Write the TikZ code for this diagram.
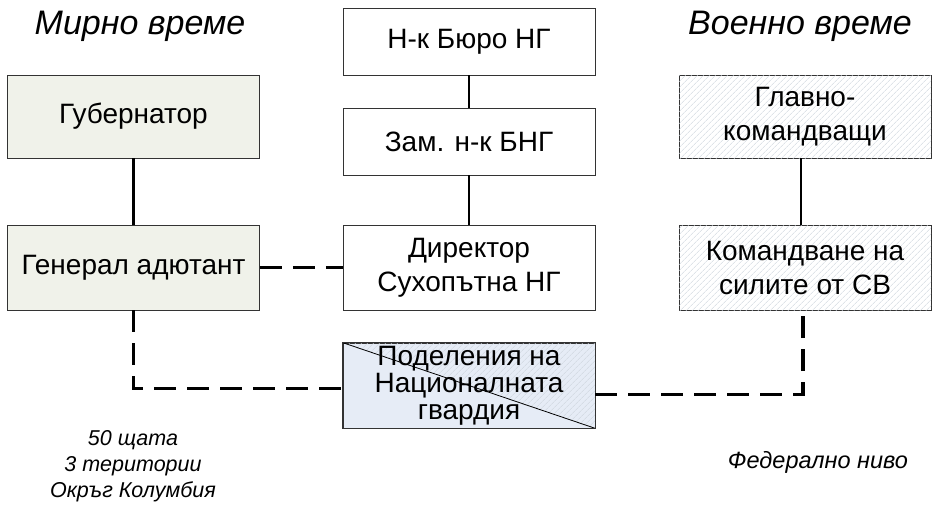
\documentclass[tikz,border=0pt]{standalone}
\usepackage{fontspec}
\setmainfont{Liberation Sans}
\usetikzlibrary{patterns.meta}
\definecolor{leftfill}{HTML}{F0F2EA}
\definecolor{hatchc}{HTML}{CDD4DC}
\definecolor{bluefill}{HTML}{E6ECF6}
\tikzset{
  px/.style={x=1pt,y=-1pt},
  box/.style={draw=black!80, line width=0.8pt, minimum width=252pt, align=center, font=\fontsize{28}{34}\selectfont, inner sep=0pt},
  leftbox/.style={box, fill=leftfill},
  rightbox/.style={box, fill=white, postaction={pattern={Lines[angle=45,distance=4pt,line width=0.5pt]}, pattern color=hatchc}},
  midbox/.style={box, fill=white},
  solidcon/.style={line width=2.5pt},
  dashcon/.style={line width=3.5pt, dash pattern=on 22pt off 11pt},
  title/.style={font=\fontsize{34}{40}\selectfont\itshape},
  note/.style={font=\fontsize{21.5}{26}\selectfont\itshape, align=center}
}
\begin{document}
\begin{tikzpicture}[px]
\useasboundingbox (0,0) rectangle (934,507);
% titles
\node[title] (t1) at (140,26) {Мирно време};
\node[title] (t2) at (800,26) {Военно време};
% left column
\node[leftbox, minimum height=83pt] (gub) at (133.5,116.5) {Губернатор};
\node[leftbox, minimum height=85pt] (gen) at (133.5,267.5) {Генерал адютант};
% center column
\node[midbox, minimum height=67pt] (nk) at (469,41.5) {Н-к Бюро НГ};
\node[midbox, minimum height=67pt] (zam) at (469,141.5) {Зам. н-к БНГ};
\node[midbox, minimum height=85pt] (dir) at (469,267.5) {Директор\\Сухопътна НГ};
% right column
\node[rightbox, minimum height=83pt] (glav) at (805,116.5) {Главно-\\командващи};
\node[rightbox, minimum height=85pt] (kom) at (805,267.5) {Командване на\\силите от СВ};
% bottom box
\node[box, minimum height=85pt, fill=bluefill] (pod) at (469,385.5) {\phantom{X}};
\fill[pattern={Lines[angle=45,distance=4pt,line width=0.5pt]}, pattern color=hatchc]
  (pod.north west) -- (pod.north east) -- (pod.south east) -- cycle;
\draw[line width=0.8pt] (pod.north west) -- (pod.south east);
\draw[draw=black!80, line width=0.8pt] (pod.north west) rectangle (pod.south east);
\node[align=center, font=\fontsize{28}{27}\selectfont] (podt) at (pod.center) {Поделения на\\Националната\\гвардия};
% solid connectors
\draw[solidcon] (gub) -- (gen);
\draw[solidcon] (nk) -- (zam);
\draw[solidcon] (zam) -- (dir);
\draw[solidcon] (glav.south) ++(-4,0) coordinate (gs) -- (gs |- kom.north);
% dashed connectors
\draw[dashcon] (gen) -- (dir);
\draw[dashcon] (gen.south) |- ([yshift=-3pt]pod.west);
\draw[dashcon] ([yshift=-9pt]pod.east) -| ([xshift=-2pt]kom.south);
% notes
\node[note] (n1) at (133,466) {50 щата\\3 територии\\Окръг Колумбия};
\node[note, font=\fontsize{23.5}{28}\selectfont\itshape] (n2) at (818,462) {Федерално ниво};
\end{tikzpicture}
\end{document}
